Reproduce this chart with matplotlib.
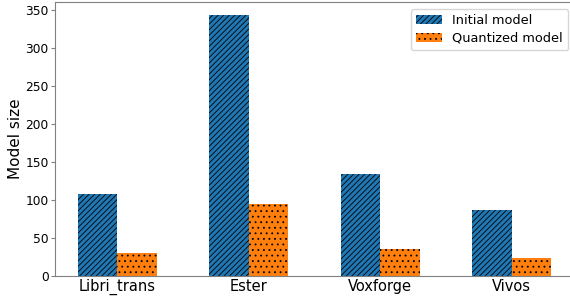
import matplotlib.pyplot as plt
import numpy as np

datasets = ['Libri_trans', 'Ester', 'Voxforge', 'Vivos']
initial = [108, 343, 134, 87]
quantized = [30, 94, 36, 24]

plt.rcParams['hatch.linewidth'] = 0.6
fig = plt.figure(figsize=(5.7, 2.96), dpi=100)
ax = fig.add_axes([55 / 570, 20 / 296, 1 - 55 / 570, 274 / 296])

x = np.arange(len(datasets))
w = 0.3
ax.bar(x, initial, w, color='#1f77b4', hatch='//////', edgecolor='black',
       linewidth=0, label='Initial model')
ax.bar(x + w, quantized, w, color='#ff7f0e', hatch='...', edgecolor='black',
       linewidth=0, label='Quantized model')

ax.set_xticks(x + w / 2)
ax.set_xticklabels(datasets, fontsize=10.5)
ax.tick_params(axis='x', length=0, pad=2)
ax.tick_params(axis='y', labelsize=8.8, colors='black', color='gray', length=3, pad=1.5)
ax.set_ylabel('Model size', fontsize=11)
ax.yaxis.set_label_coords(-0.062, 0.5)
ax.set_xlim(-0.325, 3.595)
ax.set_ylim(0, 360)
for s in ax.spines.values():
    s.set_color('gray')
ax.spines['right'].set_visible(False)
ax.legend(fontsize=9.3, loc='upper right', bbox_to_anchor=(1.009, 0.997),
          labelspacing=0.35)

plt.savefig('out.png', dpi=100)
